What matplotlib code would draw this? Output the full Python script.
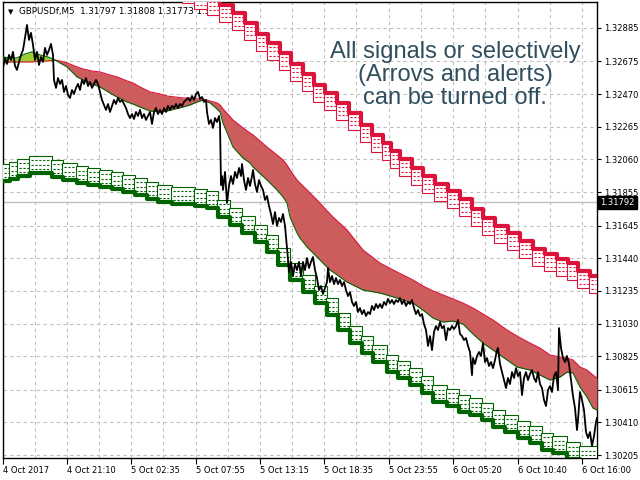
import matplotlib
matplotlib.use("Agg")
import matplotlib.pyplot as plt
from matplotlib.patches import Rectangle

# GBPUSDf M5, bars counted from the left edge of the chart
price_bar = [0, 2, 4, 6, 8, 10, 12, 14, 16, 18, 20, 22, 24, 26, 28, 30, 32, 34, 36, 38,
             40, 42, 44, 46, 48, 50, 51, 53, 55, 57, 59, 61, 63, 65, 67, 69, 71, 73, 75, 77,
             79, 81, 83, 85, 87, 89, 91, 93, 95, 97, 99, 101, 103, 105, 107, 109, 111, 113, 115, 117,
             119, 121, 123, 125, 127, 129, 131, 133, 135, 137, 139, 141, 143, 145, 147, 149, 151, 153, 155, 157,
             159, 161, 163, 165, 167, 169, 171, 173, 175, 177, 179, 181, 183, 185, 187, 189, 191, 193, 195, 197,
             199, 201, 203, 204, 206, 208, 210, 212, 214, 216, 217, 218, 219, 220, 222, 224, 226, 228, 230, 232,
             234, 236, 238, 239, 241, 243, 245, 247, 249, 250, 252, 254, 256, 258, 260, 262, 264, 266, 268, 270,
             272, 274, 276, 278, 280, 282, 284, 286, 288, 290, 292, 294, 296, 298, 300, 302, 304, 306, 308, 310,
             312, 314, 316, 318, 320, 322, 324, 325, 327, 329, 331, 333, 335, 337, 339, 341, 343, 345, 347, 349,
             351, 353, 355, 357, 359, 361, 363, 365, 367, 369, 371, 373, 375, 377, 379, 381, 383, 385, 387, 389,
             391, 393, 395, 397, 399, 401, 403, 405, 407, 409, 411, 413, 415, 417, 419, 421, 423, 425, 427, 429,
             431, 433, 435, 437, 439, 441, 443, 445, 447, 449, 451, 453, 455, 457, 459, 461, 463, 465, 467, 469,
             470, 472, 474, 476, 478, 480, 482, 484, 486, 488, 490, 492, 494, 495, 497, 499, 501, 503, 505, 507,
             509, 511, 513, 515, 517, 519, 521, 523, 525, 527, 529, 531, 533, 535, 537, 539, 541, 543, 545, 547,
             549, 551, 553, 555, 556, 558, 560, 562, 564, 566, 568, 570, 572, 574, 575, 577, 579, 581, 583, 585,
             587, 589, 591, 593, 594]
price_close = [1.32634, 1.32697, 1.32659, 1.32716, 1.32684, 1.32735, 1.32647, 1.32622, 1.32672, 1.32716,
               1.32747, 1.32823, 1.32904, 1.32810, 1.32854, 1.32779, 1.32684, 1.32735, 1.32653, 1.32703,
               1.32672, 1.32760, 1.32716, 1.32747, 1.32785, 1.32716, 1.32559, 1.32509, 1.32571, 1.32534,
               1.32559, 1.32484, 1.32521, 1.32465, 1.32446, 1.32496, 1.32471, 1.32509, 1.32534, 1.32496,
               1.32559, 1.32534, 1.32571, 1.32521, 1.32546, 1.32509, 1.32534, 1.32559, 1.32534, 1.32484,
               1.32433, 1.32402, 1.32371, 1.32408, 1.32358, 1.32396, 1.32433, 1.32408, 1.32446, 1.32421,
               1.32433, 1.32408, 1.32383, 1.32345, 1.32320, 1.32345, 1.32314, 1.32358, 1.32333, 1.32371,
               1.32320, 1.32345, 1.32308, 1.32333, 1.32358, 1.32283, 1.32358, 1.32383, 1.32345, 1.32371,
               1.32345, 1.32383, 1.32358, 1.32396, 1.32371, 1.32396, 1.32383, 1.32408, 1.32383, 1.32408,
               1.32396, 1.32421, 1.32433, 1.32446, 1.32427, 1.32458, 1.32433, 1.32471, 1.32484, 1.32440,
               1.32452, 1.32421, 1.32433, 1.32358, 1.32283, 1.32308, 1.32258, 1.32320, 1.32295, 1.32333,
               1.32283, 1.31900, 1.31956, 1.31869, 1.31982, 1.31787, 1.31894, 1.31956, 1.31906, 1.31982,
               1.31944, 1.32007, 1.31956, 1.32032, 1.31931, 1.31869, 1.31944, 1.31894, 1.31956, 1.31994,
               1.31906, 1.31856, 1.31931, 1.31894, 1.31869, 1.31806, 1.31831, 1.31768, 1.31718, 1.31655,
               1.31730, 1.31643, 1.31693, 1.31668, 1.31718, 1.31643, 1.31505, 1.31354, 1.31417, 1.31329,
               1.31404, 1.31366, 1.31417, 1.31329, 1.31417, 1.31366, 1.31442, 1.31379, 1.31417, 1.31448,
               1.31366, 1.31316, 1.31241, 1.31266, 1.31216, 1.31254, 1.31291, 1.31379, 1.31291, 1.31329,
               1.31278, 1.31316, 1.31278, 1.31304, 1.31266, 1.31291, 1.31241, 1.31203, 1.31228, 1.31166,
               1.31141, 1.31166, 1.31103, 1.31128, 1.31090, 1.31115, 1.31078, 1.31103, 1.31090, 1.31141,
               1.31115, 1.31153, 1.31128, 1.31153, 1.31128, 1.31166, 1.31147, 1.31185, 1.31159, 1.31178,
               1.31153, 1.31178, 1.31166, 1.31191, 1.31153, 1.31178, 1.31141, 1.31166, 1.31153, 1.31178,
               1.31128, 1.31090, 1.31115, 1.31078, 1.31090, 1.31027, 1.30990, 1.30890, 1.30952, 1.30864,
               1.30977, 1.31015, 1.30990, 1.31040, 1.31002, 1.31015, 1.30927, 1.31002, 1.30990, 1.31015,
               1.30996, 1.31015, 1.31053, 1.30965, 1.30952, 1.30927, 1.30940, 1.30890, 1.30852, 1.30707,
               1.30814, 1.30777, 1.30827, 1.30852, 1.30827, 1.30908, 1.30789, 1.30814, 1.30764, 1.30789,
               1.30751, 1.30802, 1.30864, 1.30877, 1.30777, 1.30726, 1.30676, 1.30626, 1.30689, 1.30651,
               1.30726, 1.30689, 1.30751, 1.30701, 1.30726, 1.30582, 1.30689, 1.30726, 1.30676, 1.30714,
               1.30739, 1.30689, 1.30664, 1.30726, 1.30651, 1.30626, 1.30551, 1.30513, 1.30613, 1.30638,
               1.30601, 1.30701, 1.30726, 1.30613, 1.31002, 1.30877, 1.30814, 1.30789, 1.30827, 1.30777,
               1.30676, 1.30576, 1.30500, 1.30362, 1.30425, 1.30601, 1.30551, 1.30488, 1.30350, 1.30312,
               1.30350, 1.30262, 1.30325, 1.30413, 1.30438]

# cloud: fast edge (crimson) and slow edge (green)
cloud_bar = [0, 7, 14, 22, 29, 37, 45, 52, 57, 64, 74, 80, 89, 97, 107, 114, 124, 130, 137, 147,
             157, 164, 172, 180, 187, 194, 200, 207, 214, 217, 220, 230, 240, 247, 250, 264, 274, 280, 284, 287,
             294, 297, 304, 314, 327, 330, 344, 360, 377, 394, 410, 420, 430, 440, 450, 460, 470, 480, 490, 504,
             514, 527, 537, 547, 557, 564, 570, 577, 584, 590, 594]
cloud_fast = [1.32666, 1.32672, 1.32672, 1.32672, 1.32672, 1.32678, 1.32678, 1.32684, 1.32678, 1.32666,
              1.32641, 1.32628, 1.32615, 1.32609, 1.32590, 1.32578, 1.32553, 1.32540, 1.32515, 1.32484,
              1.32471, 1.32458, 1.32452, 1.32446, 1.32446, 1.32440, 1.32440, 1.32427, 1.32415, 1.32402,
              1.32377, 1.32308, 1.32258, 1.32226, 1.32214, 1.32138, 1.32088, 1.32057, 1.32025, 1.31994,
              1.31931, 1.31912, 1.31869, 1.31806, 1.31718, 1.31699, 1.31618, 1.31492, 1.31410, 1.31354,
              1.31304, 1.31266, 1.31235, 1.31210, 1.31185, 1.31159, 1.31128, 1.31090, 1.31053, 1.30990,
              1.30952, 1.30908, 1.30877, 1.30833, 1.30821, 1.30814, 1.30802, 1.30758, 1.30739, 1.30707,
              1.30689]
cloud_slow = [1.32703, 1.32697, 1.32697, 1.32722, 1.32735, 1.32716, 1.32703, 1.32684, 1.32666, 1.32641,
              1.32578, 1.32559, 1.32534, 1.32515, 1.32477, 1.32452, 1.32421, 1.32408, 1.32389, 1.32364,
              1.32358, 1.32364, 1.32377, 1.32389, 1.32402, 1.32421, 1.32433, 1.32415, 1.32377, 1.32358,
              1.32289, 1.32138, 1.32069, 1.32038, 1.32013, 1.31931, 1.31869, 1.31825, 1.31787, 1.31699,
              1.31599, 1.31567, 1.31511, 1.31448, 1.31366, 1.31354, 1.31291, 1.31241, 1.31222, 1.31191,
              1.31159, 1.31115, 1.31065, 1.31040, 1.31046, 1.31027, 1.30965, 1.30908, 1.30864, 1.30802,
              1.30758, 1.30739, 1.30707, 1.30676, 1.30695, 1.30726, 1.30720, 1.30632, 1.30569, 1.30500,
              1.30488]

# upper (red) channel steps
red_step_bar = [180, 192, 205, 217, 230, 242, 254, 265, 277, 288, 300, 311, 322, 334, 346, 358, 369, 380,
                388, 397, 409, 420, 432, 445, 457, 469, 480, 492, 505, 517, 530, 542, 554, 565, 575, 587]
red_step_level = [1.33149, 1.33111, 1.33074, 1.33030, 1.32979, 1.32917, 1.32848, 1.32791, 1.32728,
                  1.32659, 1.32597, 1.32528, 1.32477, 1.32415, 1.32352, 1.32277, 1.32214, 1.32164,
                  1.32113, 1.32063, 1.32007, 1.31956, 1.31906, 1.31862, 1.31812, 1.31749, 1.31693,
                  1.31643, 1.31599, 1.31548, 1.31498, 1.31467, 1.31436, 1.31410, 1.31360, 1.31329]

# lower (green) channel steps
green_step_bar = [0, 7, 15, 27, 49, 60, 74, 85, 97, 109, 120, 132, 144, 155, 169, 192, 204, 215, 227,
                  239, 252, 264, 275, 287, 300, 312, 324, 335, 347, 359, 370, 384, 395, 407, 419, 430,
                  444, 456, 467, 479, 490, 502, 515, 527, 539, 550, 564, 577]
green_step_level = [1.31925, 1.31938, 1.31956, 1.31975, 1.31950, 1.31931, 1.31912, 1.31900, 1.31887,
                    1.31875, 1.31856, 1.31837, 1.31812, 1.31793, 1.31781, 1.31768, 1.31756, 1.31699,
                    1.31649, 1.31599, 1.31542, 1.31480, 1.31398, 1.31304, 1.31228, 1.31159, 1.31084,
                    1.30990, 1.30908, 1.30846, 1.30789, 1.30726, 1.30689, 1.30645, 1.30595, 1.30538,
                    1.30513, 1.30475, 1.30456, 1.30425, 1.30381, 1.30350, 1.30312, 1.30281, 1.30237,
                    1.30218, 1.30180, 1.30155]

ytick_labels = ["1.32885", "1.32675", "1.32470", "1.32265", "1.32060", "1.31855", "1.31645",
                "1.31440", "1.31235", "1.31030", "1.30825", "1.30615", "1.30410", "1.30205"]
xtick_bars = [0, 64, 128, 193, 257, 321, 386, 450, 515, 579]
xtick_labels = ["4 Oct 2017", "4 Oct 21:10", "5 Oct 02:35", "5 Oct 07:55", "5 Oct 13:15",
                "5 Oct 18:35", "5 Oct 23:55", "6 Oct 05:20", "6 Oct 10:40", "6 Oct 16:00"]
last_price = 1.31792
header = "GBPUSDf,M5  1.31797 1.31808 1.31773 1.31792"
note = "All signals or selectively\n(Arrovs and alerts)\ncan be turned off."

N_BARS = 594
BOX_H = 0.00105
RED = "#DC143C"
GREEN = "#006400"

plt.rcParams['font.family'] = 'DejaVu Sans'
fig = plt.figure(figsize=(6.4, 4.8), dpi=100)
ax = fig.add_axes([3/640, 22/480, 594/640, 456/480])
ax.set_xlim(0, N_BARS)
ax.set_ylim(1.30187, 1.33048)

# grid
ax.set_xticks(xtick_bars)
ax.set_xticks([b + 32 for b in xtick_bars[:-1]], minor=True)
ax.grid(True, which='both', axis='x', color='#C0C0C0', ls=(0, (3, 3)), lw=0.8, zorder=0)
ax.grid(True, which='major', axis='y', color='#C0C0C0', ls=(0, (3, 3)), lw=0.8, zorder=0)
ax.axhline(last_price, color='#C0C0C0', lw=1, zorder=1)

# header text
ax.text(0.008, 0.984, "\u25BC", transform=ax.transAxes, fontsize=5, va='top', zorder=2)
ax.text(0.027, 0.990, header, transform=ax.transAxes, fontsize=6.3, va='top', zorder=2)


def draw_channel(bars, levels, color, below):
    ends = bars[1:] + [N_BARS]
    for s, e, lv in zip(bars, ends, levels):
        bottom = lv - BOX_H if below else lv
        ax.add_patch(Rectangle((s - 1, bottom), e - s + 1, BOX_H, facecolor='white',
                               edgecolor=color, lw=0.8, zorder=3))
        for k in (1, 2, 3):
            yy = bottom + BOX_H * k / 4
            ax.hlines(yy, s + 1, e - 1, colors=color, lw=0.8, linestyles=(0, (2, 1.5)), zorder=3)
    ax.step(bars + [N_BARS], levels + [levels[-1]], where='post', color=color, lw=3.0, zorder=4)


draw_channel(red_step_bar, red_step_level, RED, True)
draw_channel(green_step_bar, green_step_level, GREEN, False)

# cloud
ax.fill_between(cloud_bar, cloud_fast, cloud_slow,
                where=[f >= s for f, s in zip(cloud_fast, cloud_slow)],
                interpolate=True, color='#CD5C5C', lw=0, zorder=5)
ax.fill_between(cloud_bar, cloud_fast, cloud_slow,
                where=[f < s for f, s in zip(cloud_fast, cloud_slow)],
                interpolate=True, color='#9ACD32', lw=0, zorder=5)
ax.plot(cloud_bar, cloud_fast, color=RED, lw=0.8, zorder=6)
ax.plot(cloud_bar, cloud_slow, color=GREEN, lw=0.8, zorder=6)

# price
ax.plot(price_bar, price_close, color='black', lw=1.3, zorder=7)

ax.text(452, 1.32590, note, ha='center', va='center', fontsize=17, color='#2F4F5F',
        family='Liberation Sans', linespacing=1.08, zorder=8)

# axes look
ax.yaxis.tick_right()
ax.set_yticks([float(t) for t in ytick_labels])
ax.set_yticklabels(ytick_labels)
ax.tick_params(axis='y', direction='out', length=3, width=0.8, pad=2, labelsize=6)
ax.set_xticklabels(xtick_labels, ha='left')
ax.tick_params(axis='x', which='major', direction='out', length=4, width=0.8, pad=2, labelsize=6)
ax.tick_params(axis='x', which='minor', length=0)
for sp in ax.spines.values():
    sp.set_color('black')
    sp.set_linewidth(1)

ax.annotate("1.31792", xy=(1.0, last_price), xycoords=('axes fraction', 'data'),
            xytext=(2.5, 0), textcoords='offset points', va='center', ha='left',
            fontsize=6, color='white', annotation_clip=False,
            bbox=dict(boxstyle='square,pad=0.25', fc='black', ec='black'))

fig.savefig("out.png", dpi=100)
